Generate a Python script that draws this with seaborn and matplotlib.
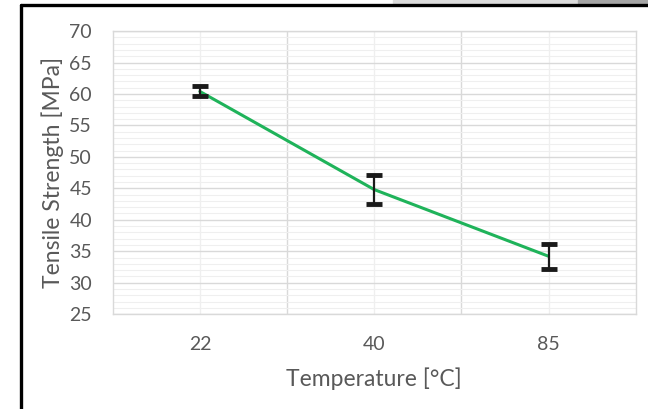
import numpy as np
import pandas as pd
import matplotlib
matplotlib.use("Agg")
import matplotlib.pyplot as plt
import seaborn as sns
from matplotlib.ticker import MultipleLocator, FixedLocator
from matplotlib.lines import Line2D
from matplotlib.patches import Rectangle

# values
temps = ["22", "40", "85"]
strength = [60.4, 44.8, 34.2]
strength_err = [0.8, 2.3, 2.0]

df = pd.DataFrame({"Temperature": temps, "Strength": strength})

sns.set_style("white")
plt.rcParams["font.family"] = ["Lato", "DejaVu Sans"]
text_col = "#595959"

fig = plt.figure(figsize=(6.48, 4.09), dpi=100)
ax = fig.add_axes([0.174, 0.232, 0.807, 0.692])

sns.lineplot(data=df, x="Temperature", y="Strength", sort=False,
             color="#1fb35a", linewidth=2.2, ax=ax, zorder=3)
ax.errorbar(temps, strength, yerr=strength_err, fmt="none", ecolor="#1a1a1a",
            elinewidth=1.6, capsize=5.5, capthick=3.5, zorder=4)

ax.set_xlim(-0.5, 2.5)
ax.set_ylim(25, 70)
ax.yaxis.set_major_locator(MultipleLocator(5))
ax.yaxis.set_minor_locator(MultipleLocator(1))
ax.xaxis.set_major_locator(FixedLocator([0, 1, 2]))
ax.set_xticklabels(temps)

# excel style grid: boundaries between categories + lighter centre lines
ax.grid(False)
ax.yaxis.grid(True, which="major", color="#d9d9d9", linewidth=1.0, zorder=0)
ax.yaxis.grid(True, which="minor", color="#efefef", linewidth=0.8, zorder=0)
for b in [0.5, 1.5]:
    ax.axvline(b, color="#d9d9d9", linewidth=1.0, zorder=0)
for c in [0, 1, 2]:
    ax.axvline(c, color="#efefef", linewidth=0.9, zorder=0)
for s in ax.spines.values():
    s.set_color("#d9d9d9")
    s.set_linewidth(1.0)

ax.tick_params(axis="both", which="both", length=0, labelsize=14,
               labelcolor=text_col)
ax.tick_params(axis="x", pad=16)
ax.tick_params(axis="y", pad=15)
ax.set_xlabel("Temperature [°C]", fontsize=16.5, color=text_col, labelpad=10)
ax.set_ylabel("Tensile Strength [MPa]", fontsize=16.5, color=text_col, labelpad=4)

# screenshot frame
fig.add_artist(Line2D([21 / 648, 21 / 648], [0, 1 - 5 / 409], color="black",
                      linewidth=2.4, transform=fig.transFigure))
fig.add_artist(Line2D([21 / 648, 1], [1 - 5 / 409, 1 - 5 / 409], color="black",
                      linewidth=2.4, transform=fig.transFigure))
fig.add_artist(Rectangle((393 / 648, 1 - 3 / 409), 185 / 648, 3 / 409,
                         color="#dcdcdc", transform=fig.transFigure))
fig.add_artist(Rectangle((578 / 648, 1 - 3 / 409), 70 / 648, 3 / 409,
                         color="#a6a6a6", transform=fig.transFigure))

fig.savefig("out.png", dpi=100)
